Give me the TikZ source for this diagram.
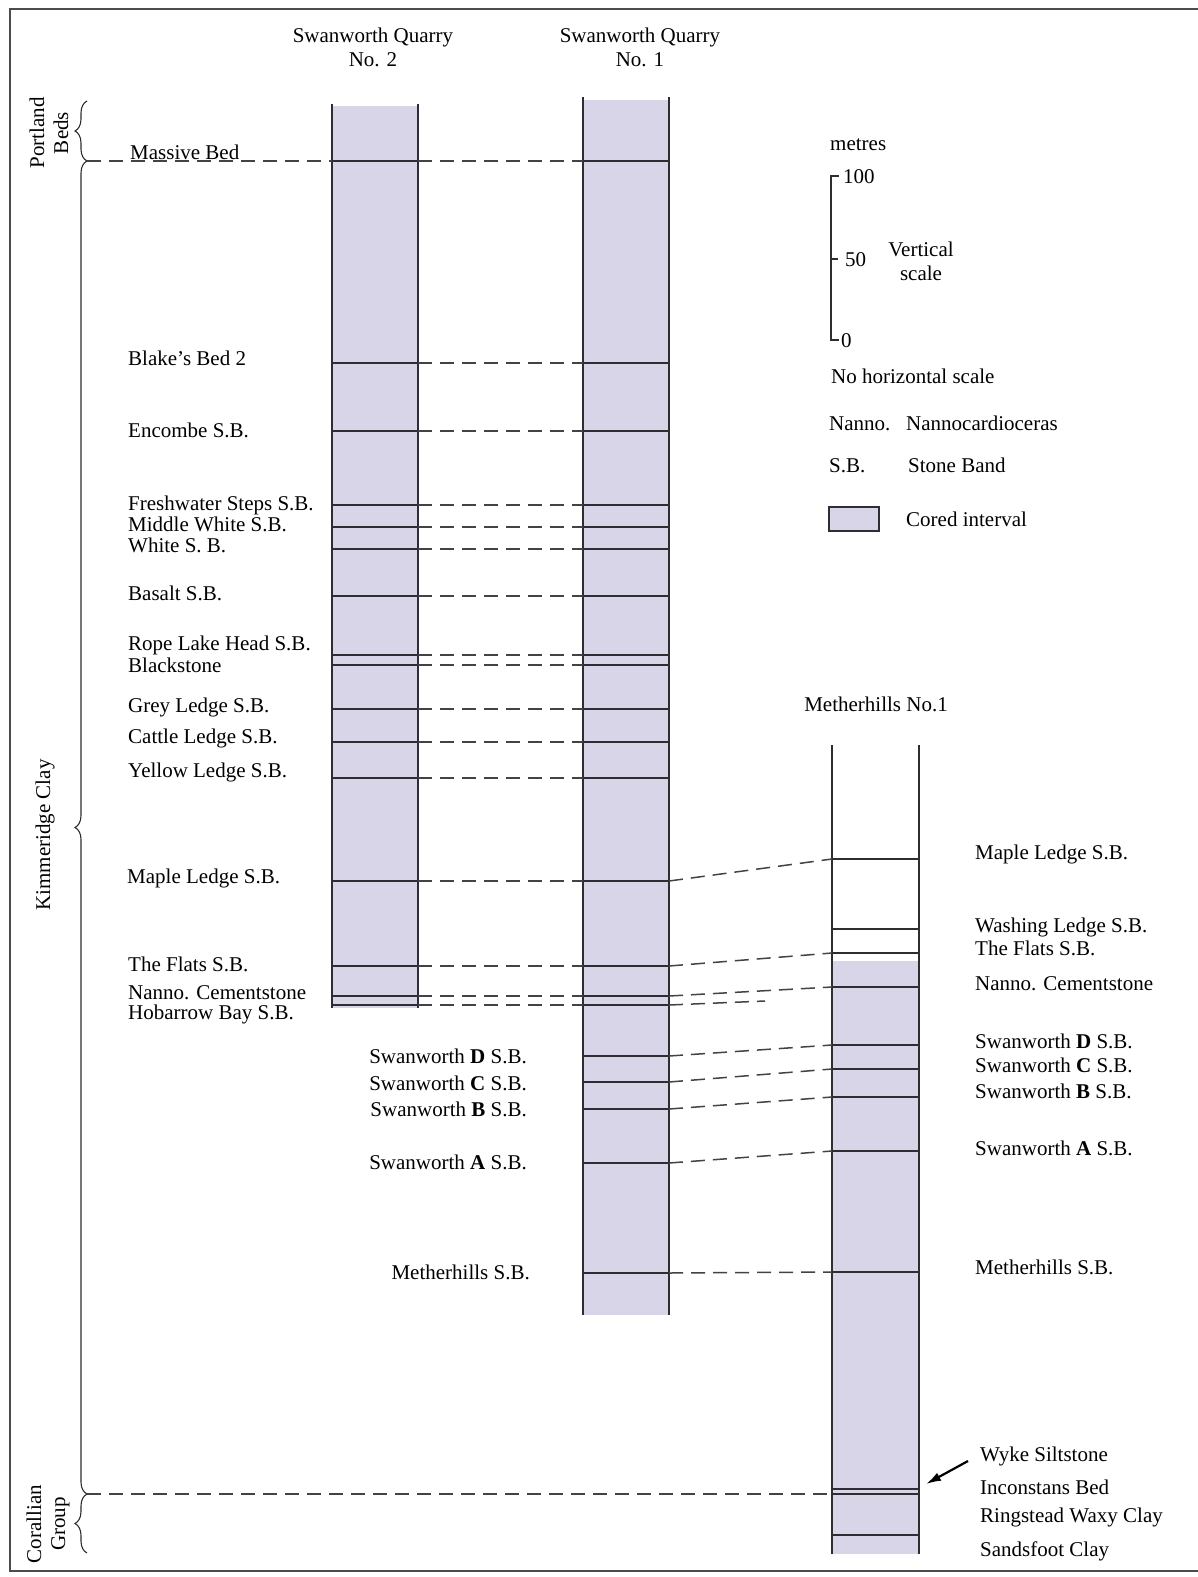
\documentclass[tikz,border=0pt]{standalone}
\usepackage{fontspec}
\setmainfont{Liberation Serif}
\usetikzlibrary{arrows.meta}
\usetikzlibrary{decorations.pathreplacing}
\usetikzlibrary{positioning}
\definecolor{cored}{RGB}{217,213,232}
\definecolor{ink}{RGB}{45,45,50}

\tikzset{
  bed/.style={draw=ink, line width=1.3pt},
  corr/.style={draw=ink!90, line width=1.5pt, dash pattern=on 14pt off 8pt},
  lbl/.style={inner sep=0pt, anchor=base west},
  rlbl/.style={inner sep=0pt, anchor=base east},
  grp/.style={rotate=90, align=center, inner sep=0pt},
  curly/.style={decorate, decoration={brace, mirror, amplitude=12pt}, draw=ink, line width=1.1pt},
  pointer/.style={-{Latex[length=15pt,width=9pt]}, draw=black, line width=2.2pt},
}

\begin{document}
\begin{tikzpicture}[x=1pt, y=-1pt, font=\fontsize{21}{24}\selectfont]
  \useasboundingbox (0,0) rectangle (1198,1577);
  % frame
  \draw[gray!60!black, line width=2pt] (1200,9) -- (10,9) -- (10,1571) -- (1200,1571);

  % cored intervals
  \fill[cored] (332,106) rectangle (418,1008);
  \fill[cored] (583,100) rectangle (669,1315);
  \fill[cored] (832,961) rectangle (919,1554);
  \foreach \x/\a/\b in {332/104/1008, 418/104/1008, 583/97/1315, 669/97/1315, 832/745/1554, 919/745/1554}
    \draw[bed] (\x,\a) -- (\x,\b);

  % column titles
  \node[align=center] (q2name) at (373,47) {Swanworth Quarry\\No. 2};
  \node[align=center] (q1name) at (640,47) {Swanworth Quarry\\No. 1};
  \node (mhname) at (876,704) {Metherhills No.1};

  % beds in both quarries
  \foreach \n/\y in {massive/161, blake/363, encombe/431, fresh/505, midwhite/527, white/549,
      basalt/596, rope/655, black/665, grey/709, cattle/742, yellow/778, maple/881,
      flats/966, nanno/996, hobarrow/1005} {
    \coordinate (q2-\n-l) at (332,\y); \coordinate (q2-\n-r) at (418,\y);
    \coordinate (q1-\n-l) at (583,\y); \coordinate (q1-\n-r) at (669,\y);
    \draw[bed] (q2-\n-l) -- (q2-\n-r);
    \draw[corr] (q2-\n-r) -- (q1-\n-l);
    \draw[bed] (q1-\n-l) -- (q1-\n-r);
  }
  \foreach \n/\y in {swD/1056, swC/1082, swB/1109, swA/1163, meth/1273} {
    \coordinate (q1-\n-l) at (583,\y); \coordinate (q1-\n-r) at (669,\y);
    \draw[bed] (q1-\n-l) -- (q1-\n-r);
  }
  \foreach \n/\y in {maple/859, washing/929, flats/953, nanno/987, swD/1045, swC/1069,
      swB/1097, swA/1151, meth/1272, wyke/1489, incon/1494, sands/1535} {
    \coordinate (mh-\n-l) at (832,\y); \coordinate (mh-\n-r) at (919,\y);
    \draw[bed] (mh-\n-l) -- (mh-\n-r);
  }

  % correlation to Metherhills
  \foreach \n in {maple, flats, nanno, swD, swC, swB, swA, meth}
    \draw[corr] (q1-\n-r) -- (mh-\n-l);
  \coordinate (hob-end) at (765,1001);
  \draw[corr] (q1-hobarrow-r) -- (hob-end);

  % formations
  \coordinate (pb-top) at (87,101);
  \coordinate (kc-top) at (87,161);
  \coordinate (kc-bot) at (87,1494);
  \coordinate (cg-bot) at (87,1553);
  \draw[curly] (pb-top) -- (kc-top);
  \draw[curly] (kc-top) -- (kc-bot);
  \draw[curly] (kc-bot) -- (cg-bot);
  \draw[corr] (kc-top) -- (q2-massive-l);
  \draw[corr] (kc-bot) -- (mh-incon-l);
  \node[grp] (portland) at (49,133) {Portland\\Beds};
  \node[grp] (kimmeridge) at (45,835) {Kimmeridge Clay};
  \node[grp] (corallian) at (48,1524) {Corallian\\Group};

  % labels, Swanworth Quarry No. 2
  \node[lbl] (massive) at (130,159) {Massive Bed};
  \node[lbl] (blake) at (128,365) {Blake's Bed 2};
  \node[lbl] (encombe) at (128,437) {Encombe S.B.};
  \node[lbl] (fresh) at (128,510) {Freshwater Steps S.B.};
  \node[lbl] (midwhite) at (128,531) {Middle White S.B.};
  \node[lbl] (white) at (128,552) {White S. B.};
  \node[lbl] (basalt) at (128,600) {Basalt S.B.};
  \node[lbl] (rope) at (128,650) {Rope Lake Head S.B.};
  \node[lbl] (black) at (128,672) {Blackstone};
  \node[lbl] (grey) at (128,712) {Grey Ledge S.B.};
  \node[lbl] (cattle) at (128,743) {Cattle Ledge S.B.};
  \node[lbl] (yellow) at (128,777) {Yellow Ledge S.B.};
  \node[lbl] (maple) at (127,883) {Maple Ledge S.B.};
  \node[lbl] (flats) at (128,971) {The Flats S.B.};
  \node[lbl] (nanno) at (128,999) {Nanno. Cementstone};
  \node[lbl] (hobarrow) at (128,1019) {Hobarrow Bay S.B.};

  % labels, Swanworth Quarry No. 1
  \node[rlbl] (q1-swD) at (527,1063) {Swanworth \textbf{D} S.B.};
  \node[rlbl] (q1-swC) at (527,1090) {Swanworth \textbf{C} S.B.};
  \node[rlbl] (q1-swB) at (527,1116) {Swanworth \textbf{B} S.B.};
  \node[rlbl] (q1-swA) at (527,1169) {Swanworth \textbf{A} S.B.};
  \node[rlbl] (q1-meth) at (530,1279) {Metherhills S.B.};

  % labels, Metherhills No. 1
  \node[lbl] (mh-maple) at (975,859) {Maple Ledge S.B.};
  \node[lbl] (mh-washing) at (975,932) {Washing Ledge S.B.};
  \node[lbl] (mh-flats) at (975,955) {The Flats S.B.};
  \node[lbl] (mh-nanno) at (975,990) {Nanno. Cementstone};
  \node[lbl] (mh-swD) at (975,1048) {Swanworth \textbf{D} S.B.};
  \node[lbl] (mh-swC) at (975,1072) {Swanworth \textbf{C} S.B.};
  \node[lbl] (mh-swB) at (975,1098) {Swanworth \textbf{B} S.B.};
  \node[lbl] (mh-swA) at (975,1155) {Swanworth \textbf{A} S.B.};
  \node[lbl] (mh-meth) at (975,1274) {Metherhills S.B.};
  \node[lbl] (wyke) at (980,1461) {Wyke Siltstone};
  \node[lbl] (incon) at (980,1494) {Inconstans Bed};
  \node[lbl] (ringstead) at (980,1522) {Ringstead Waxy Clay};
  \node[lbl] (sands) at (980,1556) {Sandsfoot Clay};
  \coordinate (wyketip) at (926,1484);
  \draw[pointer] ([xshift=-12pt]wyke.base west) -- (wyketip);

  % legend
  \node[lbl] (metres) at (830,150) {metres};
  \draw[bed, line width=1.1pt] (839,176) -- (831,176) -- (831,340) -- (839,340);
  \draw[bed, line width=1.1pt] (831,259) -- (838,259);
  \node[lbl] (m100) at (843,183) {100};
  \node[lbl] (m50) at (845,266) {50};
  \node[lbl] (m0) at (841,347) {0};
  \node[align=center] (vscale) at (921,261) {Vertical\\scale};
  \node[lbl] (nohz) at (831,383) {No horizontal scale};
  \node[lbl] (abbr-nanno) at (829,430) {Nanno.};
  \node[lbl] (def-nanno) at (906,430) {Nannocardioceras};
  \node[lbl] (abbr-sb) at (829,472) {S.B.};
  \node[lbl] (def-sb) at (908,472) {Stone Band};
  \node[draw=ink, fill=cored, line width=1.3pt, minimum width=50pt, minimum height=24pt,
        inner sep=0pt] (key) at (854,519) {};
  \node[lbl] (def-key) at (906,526) {Cored interval};
\end{tikzpicture}
\end{document}
